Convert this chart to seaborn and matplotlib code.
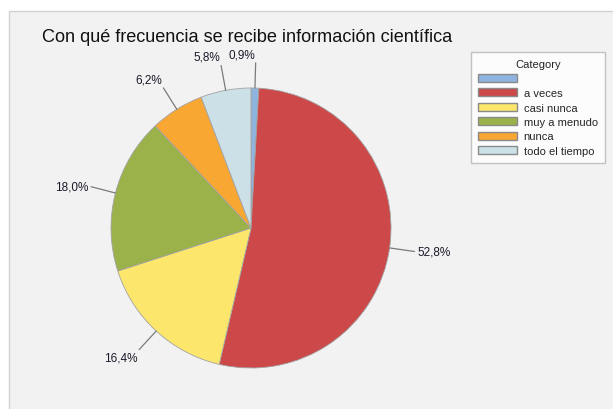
import numpy as np
import matplotlib
matplotlib.use("Agg")
import matplotlib.pyplot as plt
from matplotlib.patches import Rectangle, Patch
import seaborn as sns

categories = ["", "a veces", "casi nunca", "muy a menudo", "nunca", "todo el tiempo"]
values = [0.9, 52.8, 16.4, 18.0, 6.2, 5.8]
pct_labels = [f"{v:.1f}".replace(".", ",") + "%" for v in values]
colors_hex = ["#8fb4df", "#cc4849", "#fce76c", "#9bb24b", "#f7a732", "#cbe0e7"]
title = "Con qué frecuencia se recibe información científica"
legend_title = "Category"

sns.set_theme(style="white")
plt.rcParams["font.family"] = ["Liberation Sans", "DejaVu Sans"]
palette = sns.color_palette(colors_hex)

W, H = 613, 410
fig = plt.figure(figsize=(W / 100, H / 100), dpi=100)
fig.patch.set_facecolor("white")

# light gray panel
fig.patches.append(Rectangle((9 / W, -0.01), 1.0, 1 - 12 / H + 0.01,
                             transform=fig.transFigure, facecolor="#f2f2f2",
                             edgecolor="#d2d2d2", linewidth=1.0, zorder=-5))

cx, cy, R = 251, 229, 140
ax = fig.add_axes([(cx - R) / W, (H - cy - R) / H, 2 * R / W, 2 * R / H])
ax.set_zorder(2)
ax.set_facecolor("none")
wedges, _ = ax.pie(values, colors=palette, startangle=90, counterclock=False,
                   wedgeprops=dict(edgecolor="#a3a3a3", linewidth=0.6))
ax.set_xlim(-1, 1)
ax.set_ylim(-1, 1)
ax.set_aspect("equal")
ax.axis("off")

for w, lab in zip(wedges, pct_labels):
    ang = np.deg2rad((w.theta1 + w.theta2) / 2)
    c, s = np.cos(ang), np.sin(ang)
    ax.plot([c * 1.0, c * 1.18], [s * 1.0, s * 1.18], color="#7a7a7a",
            linewidth=0.9, clip_on=False)
    x, y = c * 1.2, s * 1.2
    ha = "left" if x > 0.1 else "right"
    if y > 0.9:
        va = "bottom"
    elif y < -0.7:
        va = "top"
    else:
        va = "center"
    ax.text(x, y, lab, ha=ha, va=va, fontsize=8.5, color="#1a1a2a", clip_on=False)

fig.text(42 / W, 1 - 37 / H, title, fontsize=13.1, color="#111111",
         ha="left", va="center")

handles = [Patch(facecolor=col, edgecolor="#8a8a8a", linewidth=1.0) for col in palette]
leg = fig.legend(handles, categories, title=legend_title, loc="upper left",
                 bbox_to_anchor=(471 / W, 1 - 53 / H), bbox_transform=fig.transFigure,
                 borderaxespad=0, fontsize=8, title_fontsize=8, frameon=True,
                 fancybox=False, handlelength=3.5, handleheight=0.75,
                 handletextpad=0.6, labelspacing=0.4, borderpad=0.65)
leg.set_zorder(3)
leg.get_frame().set_edgecolor("#b5b5b5")
leg.get_frame().set_facecolor("white")
leg.get_frame().set_linewidth(1.0)

fig.savefig("out.png", dpi=100)
